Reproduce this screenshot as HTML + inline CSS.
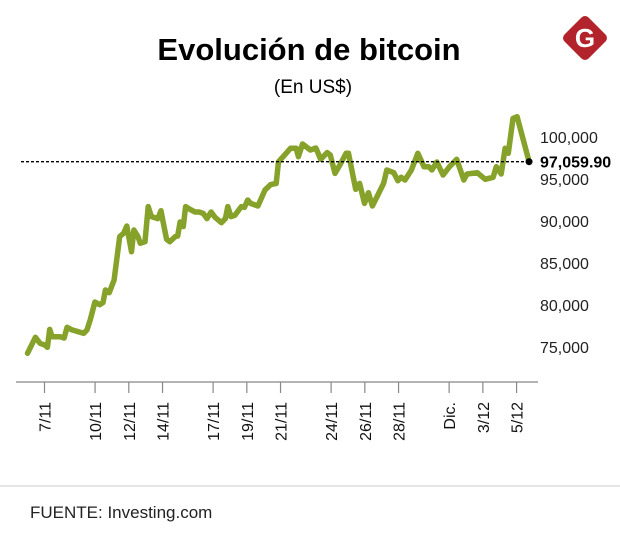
<!DOCTYPE html>
<html><head><meta charset="utf-8">
<style>
body{margin:0;background:#fff;width:620px;height:548px;overflow:hidden;font-family:"Liberation Sans",sans-serif;}
svg{display:block}
</style></head>
<body>
<svg id="chart" width="620" height="548" viewBox="0 0 620 548">
  <text x="309" y="60" text-anchor="middle" font-size="31" font-weight="900" fill="#000">Evolución de bitcoin</text>
  <text x="313" y="93" text-anchor="middle" font-size="19" fill="#000">(En US$)</text>
  <g>
    <rect x="568" y="21" width="34" height="34" rx="5" fill="#b3232b" transform="rotate(45 585 38)"/>
    <text x="585" y="47" text-anchor="middle" font-size="26" font-weight="bold" fill="#fff">G</text>
  </g>
  <g id="plot"></g>
  <line x1="0" y1="486" x2="620" y2="486" stroke="#ccc" stroke-width="1"/>
  <text x="30" y="518" font-size="17" fill="#222">FUENTE: Investing.com</text>
</svg>
<script>
const days = [5.99,6.46,6.74,7.02,7.17,7.31,7.45,7.92,8.16,8.34,8.63,9.33,9.52,9.71,9.99,10.28,10.47,10.61,10.84,11.13,11.46,11.69,11.88,12.16,12.30,12.54,12.68,12.96,13.15,13.34,13.72,13.91,14.05,14.24,14.43,14.76,14.90,15.04,15.23,15.37,15.70,15.93,16.17,16.41,16.64,16.88,17.11,17.49,17.73,17.87,18.06,18.29,18.67,18.86,19.05,19.23,19.66,20.08,20.41,20.74,20.88,21.12,21.59,21.92,22.06,22.30,22.77,23.10,23.38,23.76,23.95,24.23,24.52,24.89,25.03,25.46,25.69,25.98,26.21,26.45,27.11,27.30,27.72,27.96,28.15,28.38,28.76,29.14,29.51,29.80,29.98,30.27,30.64,31.02,31.45,31.87,32.06,32.67,33.14,33.61,33.80,34.09,34.32,34.51,34.79,35.03,35.74];
const prices = [74250,76150,75440,75240,74960,77100,76230,76230,76070,77340,77030,76630,77030,78220,80360,80040,80280,81790,81470,82980,88140,88530,89410,86350,88930,88140,87340,87540,91710,90520,90280,91230,89720,87820,87540,88140,88210,89880,89330,91710,91310,91070,91070,90910,90280,91070,90440,89800,90280,91710,90520,90670,91710,91630,92500,92100,91790,93690,94330,94480,97060,97580,98650,98650,97660,99170,98450,98690,97340,98140,97860,95670,96670,98060,98060,93770,94480,92100,93370,91790,94480,96070,95750,94800,95200,94880,96070,98060,96470,96470,96070,97020,95480,96470,97340,94880,95600,95750,94960,95200,96470,95600,98650,98060,102220,102420,97059.9];
const yTicks = [75000,80000,85000,90000,95000,100000];
const yTickLabels = ["75,000","80,000","85,000","90,000","95,000","100,000"];
const xTickDays = [7,10,12,14,17,19,21,24,26,28,31,33,35];
const xTickLabels = ["7/11","10/11","12/11","14/11","17/11","19/11","21/11","24/11","26/11","28/11","Dic.","3/12","5/12"];
const refValue = 97059.90;
const refLabel = "97,059.90";

const NS="http://www.w3.org/2000/svg";
const plot=document.getElementById('plot');
const xS=d=>44.5+(d-7)*16.86;
const yS=v=>137+(100000-v)*0.0084;
function mk(tag,attrs){const e=document.createElementNS(NS,tag);for(const k in attrs)e.setAttribute(k,attrs[k]);plot.appendChild(e);return e;}

const axis=mk('line',{x1:16,y1:382,x2:538,y2:382,stroke:'#888','stroke-width':1.3});



yTicks.forEach((v,i)=>{
  const t=mk('text',{x:540,y:yS(v)+6,'font-size':16,fill:'#222'});
  t.textContent=yTickLabels[i];
  
  
});

xTickDays.forEach((d,i)=>{
  const x=xS(d);
  const tk=mk('line',{x1:x,y1:382,x2:x,y2:393,stroke:'#888','stroke-width':1.2});
  
  
  const t=mk('text',{x:0,y:0,'font-size':16,fill:'#111','text-anchor':'end',transform:`translate(${x+6},402) rotate(-90)`});
  t.textContent=xTickLabels[i];
  
  
});

const pts=days.map((d,i)=>xS(d).toFixed(1)+','+yS(prices[i]).toFixed(1)).join(' ');
const line=mk('polyline',{points:pts,fill:'none',stroke:'#86a22a','stroke-width':5.5,'stroke-linejoin':'round','stroke-linecap':'round'});



const ry=yS(refValue);
const ref=mk('line',{x1:21,y1:ry,x2:xS(days[days.length-1]),y2:ry,stroke:'#000','stroke-width':1.3,'stroke-dasharray':'3,2'});


const dot=mk('circle',{cx:xS(days[days.length-1]),cy:ry,r:3.5,fill:'#000'});


const rl=mk('text',{x:540,y:ry+6,'font-size':16,'font-weight':'bold',fill:'#000'});
rl.textContent=refLabel;


</script>
</body></html>
